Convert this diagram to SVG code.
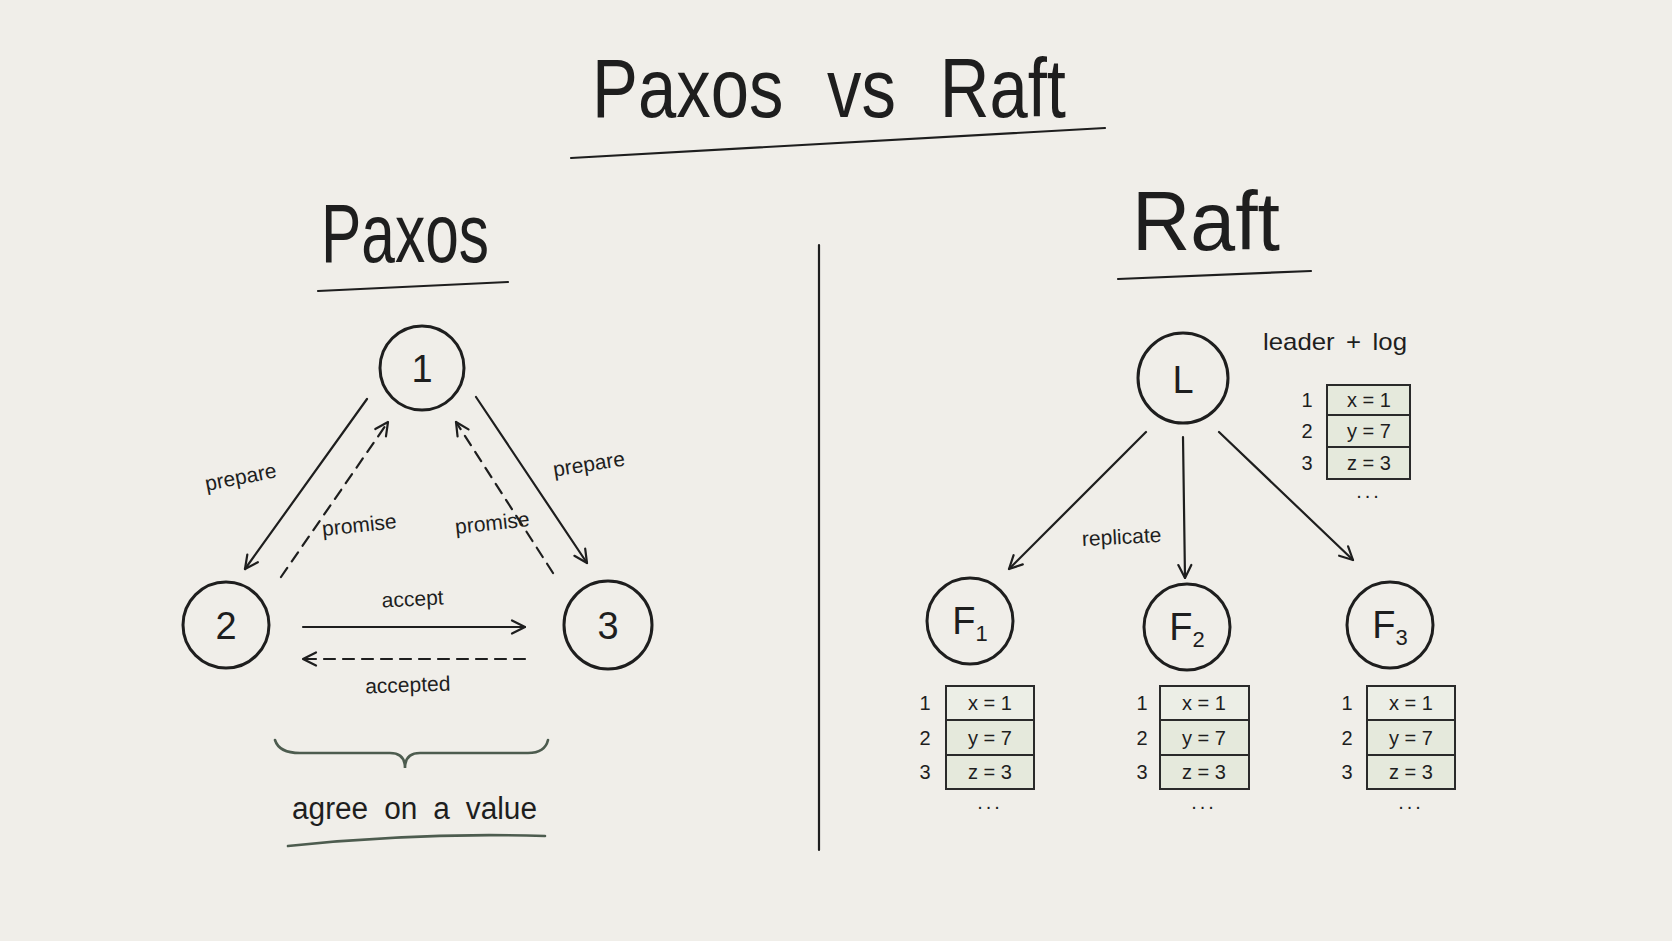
<svg xmlns="http://www.w3.org/2000/svg" width="1672" height="941" viewBox="0 0 1672 941">
<defs>
<marker id="arr" viewBox="0 0 16 16" refX="15" refY="8" markerWidth="16" markerHeight="16" markerUnits="userSpaceOnUse" orient="auto">
<path d="M2,1.5 L15,8 L2,14.5" fill="none" stroke="#1e1e1e" stroke-width="2.2" stroke-linecap="round" stroke-linejoin="round"/>
</marker>
<style>
text{font-family:"Liberation Sans","DejaVu Sans",sans-serif;fill:#1e1e1e}
.title{font-size:84px}
.lbl{font-size:21px;text-anchor:middle}
.num{font-size:38px;text-anchor:middle}
.cell{font-size:20px;text-anchor:middle}
.idx{font-size:20px;text-anchor:middle}
.node{fill:none;stroke:#1e1e1e;stroke-width:3}
.edge{fill:none;stroke:#1e1e1e;stroke-width:2.2;stroke-linecap:round}
.dash{stroke-dasharray:11 8}
.row{fill:#e5e9dc;stroke:#2a2a2a;stroke-width:2}
.row1{fill:#eceee6;stroke:#2a2a2a;stroke-width:2}
.ink{fill:none;stroke:#1e1e1e;stroke-width:2.2;stroke-linecap:round}
.green{fill:none;stroke:#4d5c4f;stroke-width:2.6;stroke-linecap:round}
</style>
</defs>
<rect width="1672" height="941" fill="#f0eee9"/>

<g id="title">
<text class="title" x="592" y="117" textLength="474" lengthAdjust="spacingAndGlyphs" word-spacing="30">Paxos vs Raft</text>
<path class="ink" d="M571,158 L1105,128" stroke-width="2.8"/>
</g>

<g id="divider"><path class="ink" d="M819,245 L819,850" stroke-width="1.8"/></g>

<g id="paxos-heading">
<text class="title" x="321" y="262" textLength="168" lengthAdjust="spacingAndGlyphs">Paxos</text>
<path class="ink" d="M318,291 L508,282" stroke-width="2.8"/>
</g>
<g id="raft-heading">
<text class="title" x="1132" y="250" textLength="148" lengthAdjust="spacingAndGlyphs">Raft</text>
<path class="ink" d="M1118,279 L1311,271" stroke-width="2.8"/>
</g>

<g id="connectors">
<path class="edge" d="M367,399 L245,569" marker-end="url(#arr)"/>
<path class="edge dash" d="M281,577 L388,422" marker-end="url(#arr)"/>
<path class="edge" d="M476,397 L587,563" marker-end="url(#arr)"/>
<path class="edge dash" d="M553,573 L456,422" marker-end="url(#arr)"/>
<path class="edge" d="M303,627 L525,627" marker-end="url(#arr)"/>
<path class="edge dash" d="M525,659 L303,659" marker-end="url(#arr)"/>
<path class="edge" d="M1146,432 L1009,569" marker-end="url(#arr)"/>
<path class="edge" d="M1183,437 L1185,578" marker-end="url(#arr)"/>
<path class="edge" d="M1219,432 L1353,560" marker-end="url(#arr)"/>
<text class="lbl" transform="translate(242,484) rotate(-11)">prepare</text>
<text class="lbl" transform="translate(360,532) rotate(-6)">promise</text>
<text class="lbl" transform="translate(493,530) rotate(-6)">promise</text>
<text class="lbl" transform="translate(590,471) rotate(-9)">prepare</text>
<text class="lbl" transform="translate(413,606) rotate(-3)">accept</text>
<text class="lbl" transform="translate(408,692) rotate(-2)">accepted</text>
<text class="lbl" transform="translate(1122,544) rotate(-3)">replicate</text>
</g>

<g id="node-1"><circle class="node" cx="422" cy="368" r="42"/><text class="num" x="422" y="382">1</text></g>
<g id="node-2"><circle class="node" cx="226" cy="625" r="43"/><text class="num" x="226" y="639">2</text></g>
<g id="node-3"><circle class="node" cx="608" cy="625" r="44"/><text class="num" x="608" y="639">3</text></g>

<g id="agree">
<path class="green" d="M275,740 Q279,753 300,753 L390,753 Q405,753 405,768 Q405,753 420,753 L528,753 Q545,753 548,740"/>
<text x="292" y="819" font-size="31" textLength="245" lengthAdjust="spacingAndGlyphs" word-spacing="8">agree on a value</text>
<path class="green" d="M288,846 Q420,832 545,836" stroke-width="3.2"/>
</g>

<g id="node-L">
<circle class="node" cx="1183" cy="378" r="45"/><text class="num" x="1183" y="393" font-size="40">L</text>
<text x="1263" y="350" font-size="24" textLength="144" lengthAdjust="spacingAndGlyphs" word-spacing="4">leader + log</text>
</g>
<g id="leader-log">
<rect class="row" x="1327" y="385" width="83" height="30"/>
<rect class="row" x="1327" y="415" width="83" height="32"/>
<rect class="row" x="1327" y="447" width="83" height="32"/>
<text class="cell" x="1369" y="407">x = 1</text>
<text class="cell" x="1369" y="438">y = 7</text>
<text class="cell" x="1369" y="470">z = 3</text>
<text class="idx" x="1307" y="407">1</text>
<text class="idx" x="1307" y="438">2</text>
<text class="idx" x="1307" y="470">3</text>
<text class="cell" x="1369" y="498" letter-spacing="3">...</text>
</g>

<g id="node-F1"><circle class="node" cx="970" cy="621" r="43"/><text class="num" x="970" y="634" font-size="36">F<tspan font-size="22" dy="7">1</tspan></text></g>
<g id="node-F2"><circle class="node" cx="1187" cy="627" r="43"/><text class="num" x="1187" y="640" font-size="36">F<tspan font-size="22" dy="7">2</tspan></text></g>
<g id="node-F3"><circle class="node" cx="1390" cy="625" r="43"/><text class="num" x="1390" y="638" font-size="36">F<tspan font-size="22" dy="7">3</tspan></text></g>

<g id="log-F1">
<rect class="row1" x="946" y="686" width="88" height="34"/>
<rect class="row" x="946" y="720" width="88" height="35"/>
<rect class="row" x="946" y="755" width="88" height="34"/>
<text class="cell" x="990" y="710">x = 1</text><text class="cell" x="990" y="745">y = 7</text><text class="cell" x="990" y="779">z = 3</text>
<text class="idx" x="925" y="710">1</text><text class="idx" x="925" y="745">2</text><text class="idx" x="925" y="779">3</text>
<text class="cell" x="990" y="809" letter-spacing="3">...</text>
</g>
<g id="log-F2">
<rect class="row1" x="1160" y="686" width="89" height="34"/>
<rect class="row" x="1160" y="720" width="89" height="35"/>
<rect class="row" x="1160" y="755" width="89" height="34"/>
<text class="cell" x="1204" y="710">x = 1</text><text class="cell" x="1204" y="745">y = 7</text><text class="cell" x="1204" y="779">z = 3</text>
<text class="idx" x="1142" y="710">1</text><text class="idx" x="1142" y="745">2</text><text class="idx" x="1142" y="779">3</text>
<text class="cell" x="1204" y="809" letter-spacing="3">...</text>
</g>
<g id="log-F3">
<rect class="row1" x="1367" y="686" width="88" height="34"/>
<rect class="row" x="1367" y="720" width="88" height="35"/>
<rect class="row" x="1367" y="755" width="88" height="34"/>
<text class="cell" x="1411" y="710">x = 1</text><text class="cell" x="1411" y="745">y = 7</text><text class="cell" x="1411" y="779">z = 3</text>
<text class="idx" x="1347" y="710">1</text><text class="idx" x="1347" y="745">2</text><text class="idx" x="1347" y="779">3</text>
<text class="cell" x="1411" y="809" letter-spacing="3">...</text>
</g>
</svg>
